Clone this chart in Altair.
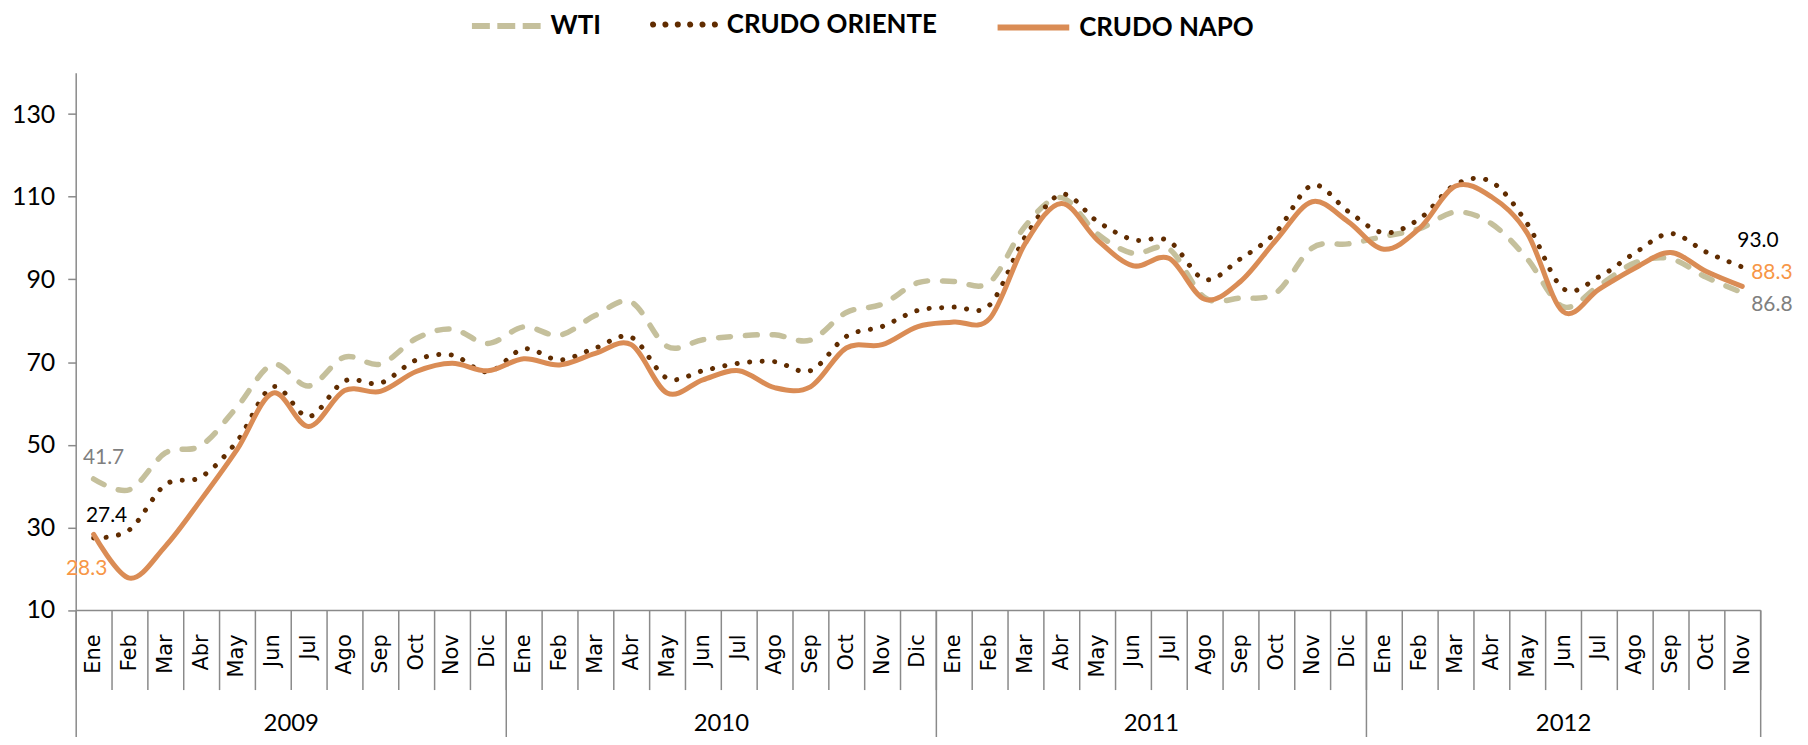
import altair as alt
import pandas as pd

# ---------------- data ----------------
months = ["Ene", "Feb", "Mar", "Abr", "May", "Jun", "Jul", "Ago", "Sep", "Oct", "Nov", "Dic"]
years = ["2009", "2010", "2011", "2012"]
n_months = 47  # Ene 2009 .. Nov 2012

wti = [41.7, 39.1, 48.0, 49.8, 59.1, 69.4, 64.2, 71.2, 69.5, 75.7, 78.0, 74.5,
       78.5, 76.5, 81.3, 84.5, 73.8, 75.4, 76.3, 76.6, 75.3, 82.0, 84.0, 89.2,
       89.5, 89.3, 103.0, 109.8, 101.1, 96.3, 97.4, 85.6, 85.5, 86.8, 97.6, 98.6,
       100.4, 102.3, 106.3, 103.5, 95.0, 83.4, 88.5, 94.0, 95.0, 90.5, 86.8]
oriente = [27.4, 29.4, 40.3, 42.2, 50.8, 64.0, 56.8, 65.4, 64.9, 70.5, 71.7, 67.6,
           73.2, 70.5, 73.4, 76.0, 66.1, 67.9, 69.7, 70.1, 67.9, 76.2, 78.6, 82.5,
           83.3, 83.8, 100.4, 110.6, 104.1, 99.6, 99.3, 90.0, 95.0, 101.5, 112.8, 106.5,
           101.3, 104.7, 113.0, 113.6, 103.5, 87.8, 90.6, 96.4, 101.1, 96.6, 93.0]
napo = [28.3, 17.7, 25.4, 36.7, 48.8, 62.5, 54.4, 63.1, 62.9, 67.7, 69.7, 67.9,
        70.8, 69.3, 72.1, 74.2, 62.5, 65.7, 67.9, 63.8, 64.0, 73.4, 74.2, 78.6,
        79.7, 80.5, 98.8, 108.4, 99.6, 93.3, 95.1, 85.2, 89.5, 99.6, 108.8, 104.0,
        97.3, 102.4, 112.6, 110.0, 101.2, 82.2, 87.6, 92.7, 96.5, 91.9, 88.3]

series_names = ["WTI", "CRUDO ORIENTE", "CRUDO NAPO"]
series_values = [wti, oriente, napo]
series_colors = ["#C5C09C", "#602C00", "#DA8C55"]
y_ticks = [10, 30, 50, 70, 90, 110, 130]

rows = []
for name, vals in zip(series_names, series_values):
    for i, v in enumerate(vals):
        rows.append({"series": name, "pos": i + 0.5, "value": v})
df = pd.DataFrame(rows)

# ---------------- styling helpers ----------------
GRAY = "#8A8A8A"
NUM_FONT = "Lato"
months_js = "[" + ",".join(f"'{m}'" for m in months) + "]"
years_js = "[" + ",".join(f"'{y}'" for y in years) + "]"

x_scale = alt.Scale(domain=[0, n_months], nice=False, zero=False)
y_scale = alt.Scale(domain=[10, 140], nice=False, zero=False)

month_label_axis = alt.Axis(
    orient="bottom", title=None, values=[i + 0.5 for i in range(n_months)],
    labelExpr=months_js + "[floor(datum.value) % 12]",
    labelAngle=270, labelPadding=24, labelFont="DejaVu Sans", labelFontSize=21,
    labelColor="#000000", labelOverlap=False, labelFlush=False, labelBound=False,
    ticks=False, tickSize=0, grid=False, domain=True, domainColor=GRAY, domainWidth=1.5,
)
month_tick_axis = alt.Axis(
    orient="bottom", title=None, values=list(range(n_months + 1)), labels=False, domain=False,
    ticks=True, tickSize=80, tickColor=GRAY, tickWidth=1.5, grid=False,
)
year_label_axis = alt.Axis(
    orient="bottom", title=None, values=[6, 18, 30, 41.5],
    labelExpr=years_js + "[floor(datum.value / 12)]",
    labelPadding=121, labelBaseline="alphabetic", labelFont=NUM_FONT, labelFontSize=24,
    labelColor="#000000", labelOverlap=False, labelFlush=False, labelBound=False,
    ticks=False, tickSize=0, domain=False, grid=False,
)
year_tick_axis = alt.Axis(
    orient="bottom", title=None, values=[0, 12, 24, 36, n_months], labels=False, domain=False,
    ticks=True, tickSize=130, tickColor=GRAY, tickWidth=1.5, grid=False,
)
y_axis = alt.Axis(
    orient="left", title=None, values=y_ticks, tickSize=8, tickColor=GRAY, tickWidth=1.5,
    domainColor=GRAY, domainWidth=1.5, labelFont=NUM_FONT, labelFontSize=25,
    labelColor="#000000", labelPadding=13, grid=False,
)


def xenc(axis):
    return alt.X("pos:Q", scale=x_scale, axis=axis)


def yenc():
    return alt.Y("value:Q", scale=y_scale, axis=y_axis)


# dotted legend symbol: six small circles in the unit square
def dots_path(n=6, r=0.045):
    parts = []
    for k in range(n):
        cx = -0.9 + k * 1.8 / (n - 1)
        parts.append(f"M{cx - r:.4f},0a{r},{r} 0 1,0 {2 * r:.4f},0a{r},{r} 0 1,0 {-2 * r:.4f},0")
    return "".join(parts)


legend_common = dict(
    title=None, orient="none", legendY=-84.5, padding=0,
    labelFont=NUM_FONT, labelFontWeight="bold", labelFontSize=26, labelColor="#000000",
    labelOffset=7, labelBaseline="middle", labelLimit=400,
)
legend_specs = [
    dict(legendX=395, symbolType="stroke", symbolSize=69 * 69, symbolStrokeWidth=6,
         symbolDash=[18, 7.5]),
    dict(legendX=575, symbolType=dots_path(), symbolSize=69 * 69, symbolStrokeWidth=3,
         symbolFillColor=series_colors[1]),
    dict(legendX=923, symbolType="stroke", symbolSize=72 * 72, symbolStrokeWidth=6),
]
line_dash = [[12, 15], [0.1, 12.5], None]
line_width = [5.5, 5, 5]
x_axes = [month_label_axis, month_tick_axis, year_label_axis]

layers = []
for k, name in enumerate(series_names):
    enc = dict(
        x=xenc(x_axes[k]),
        y=yenc(),
        color=alt.Color(
            "series:N",
            scale=alt.Scale(domain=[name], range=[series_colors[k]]),
            legend=alt.Legend(**legend_common, **legend_specs[k]),
        ),
        strokeWidth=alt.value(line_width[k]),
    )
    if line_dash[k] is not None:
        enc["strokeDash"] = alt.value(line_dash[k])
    layer = (
        alt.Chart(df)
        .transform_filter(alt.datum.series == name)
        .mark_line(interpolate="cardinal", strokeCap="round", strokeJoin="round")
        .encode(**enc)
    )
    layers.append(layer)

# ---------------- value labels (first and last value of each series) ----------------
label_colors = ["#7F7F7F", "#000000", "#F79646"]
start_offsets = [(10, -21, "center"), (13, -22, "center"), (-7, 35, "center")]
end_offsets = [(9, 12, "left"), (-5, -26, "left"), (9, -13, "left")]

first_text = True
for k, name in enumerate(series_names):
    vals = series_values[k]
    for idx, (dx, dy, align) in [(0, start_offsets[k]), (len(vals) - 1, end_offsets[k])]:
        ldf = pd.DataFrame({"pos": [idx + 0.5], "value": [vals[idx]],
                            "label": [f"{vals[idx]:.1f}"]})
        t = (
            alt.Chart(ldf)
            .mark_text(dx=dx, dy=dy, align=align, baseline="middle", font=NUM_FONT,
                       fontSize=21, color=label_colors[k])
            .encode(x=xenc(year_tick_axis if first_text else None), y=yenc(),
                    text="label:N")
        )
        first_text = False
        layers.append(t)

chart = (
    alt.layer(*layers)
    .resolve_scale(color="independent")
    .resolve_legend(color="independent")
    .resolve_axis(x="independent")
    .properties(
        width=1692, height=539.5,
        autosize=alt.AutoSizeParams(type="none"),
        padding={"left": 68, "top": 63.5, "right": 40, "bottom": 126},
        background="#FFFFFF",
    )
    .configure_view(strokeWidth=0)
)

chart.save("out.html", embed_options={"renderer": "svg", "actions": False})
